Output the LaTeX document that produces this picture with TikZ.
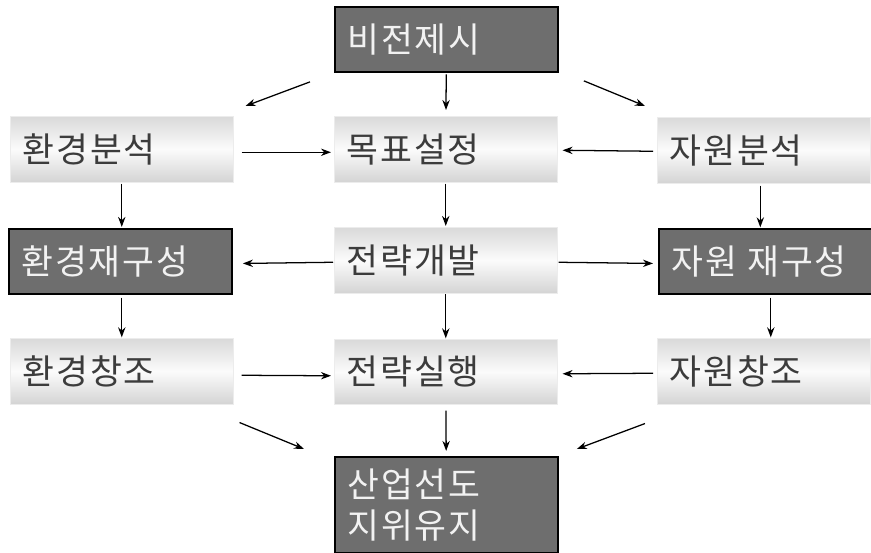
\documentclass[tikz,border=0pt]{standalone}
\usepackage{fontspec}
\newfontfamily\kr[LetterSpace=5]{Noto Sans CJK KR}
\usetikzlibrary{arrows.meta,calc}
\definecolor{darkfill}{HTML}{6E6E6E}
\definecolor{lighttext}{HTML}{3C3C3C}
\definecolor{darktext}{HTML}{F2F2F2}
\begin{document}
\begin{tikzpicture}[x=0.75pt,y=-0.75pt,
  base/.style={rectangle, anchor=north west, inner xsep=9.5pt, inner ysep=0pt,
    align=left, font=\kr\fontsize{26pt}{31pt}\selectfont, minimum height=49.5pt},
  wA/.style={minimum width=167.25pt, text width=148.25pt},
  wB/.style={minimum width=159.75pt, text width=140.75pt},
  lightbox/.style={base, text=lighttext, draw=gray!15, line width=0.4pt,
    top color=gray!30, bottom color=gray!34, middle color=gray!3},
  darkbox/.style={base, text=darktext, fill=darkfill, draw=black, line width=1.4pt},
  arr/.style={line width=0.95pt, -{Stealth[length=7.5pt,width=5.5pt,inset=2.4pt]}}
]
\useasboundingbox (0,0) rectangle (871,553);

% boxes
\node[darkbox, wA, minimum height=48.75pt] (vision) at (334,6) {비전제시};
\node[lightbox, wA] (envA) at (10,116) {환경분석};
\node[lightbox, wA] (goal) at (334,116) {목표설정};
\node[lightbox, wB] (resA) at (657,117) {자원분석};
\node[darkbox, wA, minimum height=48.75pt] (envR) at (8,228) {환경재구성};
\node[lightbox, wA] (dev) at (334,227) {전략개발};
\node[darkbox, wB, minimum height=48.75pt] (resR) at (658,228) {\mbox{자원\hspace{0.3em}재구성}};
\node[lightbox, wA] (envC) at (10,338) {환경창조};
\node[lightbox, wA, minimum height=48.75pt] (strat) at (334,339) {전략실행};
\node[lightbox, wB] (resC) at (657,338) {자원창조};
\node[darkbox, wA, minimum height=72pt] (bottom) at (334,456) {산업선도\\지위유지};

% connectors
\draw[arr, shorten <=1.2pt, shorten >=4.5pt] (vision) -- (goal);
\draw[arr] ($(vision.south west)+(-24,9)$) -- ($(envA.north east)+(12,-10)$);
\draw[arr] ($(vision.south east)+(25,8)$) -- ($(resA.north west)+(-12,-11)$);

\draw[arr] ($(envA.east)+(8,3)$) -- ($(goal.west)+(-3,3)$);
\draw[arr] ($(resA.west)+(-4,1)$) -- ($(goal.east)+(5,1)$);

\draw[arr, shorten <=0.8pt, shorten >=0.8pt] (envA.south) -- (envA.south |- envR.north);
\draw[arr, shorten <=0.8pt, shorten >=0.8pt] (goal) -- (dev);
\draw[arr, shorten <=1.5pt, shorten >=0.5pt] ([xshift=-2.6pt]resA.south) -- ([xshift=-2.6pt]resA.south |- resR.north);

\draw[arr] ($(dev.west)+(-1,2)$) -- ($(envR.east)+(10,2)$);
\draw[arr] ($(dev.east)+(1,2)$) -- ($(resR.west)+(-5,2)$);

\draw[arr, shorten <=2pt, shorten >=0.5pt] (envC.north |- envR.south) -- (envC.north);
\draw[arr, shorten <=0.5pt, shorten >=0.5pt] (dev) -- (strat);
\draw[arr, shorten <=2pt, shorten >=0.5pt] ([xshift=4pt]resR.south) -- ([xshift=4pt]resR.south |- resC.north);

\draw[arr] ($(envC.east)+(8,4)$) -- ($(strat.west)+(-3,4)$);
\draw[arr] ($(resC.west)+(-4,2)$) -- ($(strat.east)+(5,2)$);

\draw[arr, shorten <=4.5pt, shorten >=3.8pt] (strat) -- (bottom);
\draw[arr] ($(envC.south east)+(6,18)$) -- ($(bottom.north west)+(-30,-7)$);
\draw[arr] ($(resC.south west)+(-12,19)$) -- ($(bottom.north east)+(18,-7)$);
\end{tikzpicture}
\end{document}
